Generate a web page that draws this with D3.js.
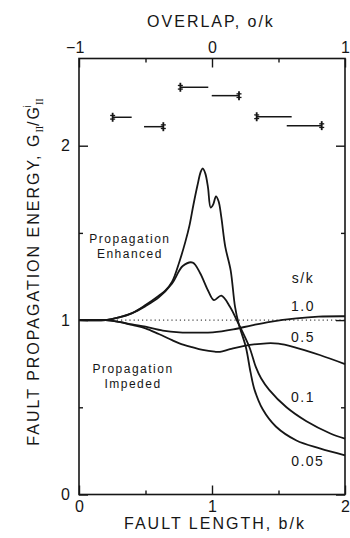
<!DOCTYPE html>
<html>
<head>
<meta charset="utf-8">
<script src="https://cdn.jsdelivr.net/npm/d3@7"></script>
<style>
  body { margin: 0; background: #fff; }
  svg { display: block; }
</style>
</head>
<body>
<script>
// Size of the page
const w = 350;
const h = 538;
const pLeft = 79, pRight = 345, pTop = 58.5, pBottom = 494.5;
const ink = "#161616";

// Tick values
const xTicks = [0, 1, 2];
const xMinor = [0.5, 1.5];
const oTicks = [-1, 0, 1];
const oMinor = [-0.5, 0.5];
const yTicks = [0, 1, 2];
const yMinor = [0.5, 1.5];

// Curves, [b/k, G/Gi]
const sLabels = ["0.05", "0.1", "0.5", "1.0"];
const s005 = [[0, 1], [0.2, 1], [0.3, 1.015], [0.4, 1.04], [0.5, 1.086], [0.6, 1.14], [0.65, 1.17],
  [0.7, 1.22], [0.755, 1.335], [0.8, 1.45], [0.83, 1.54], [0.86, 1.66], [0.89, 1.77], [0.915, 1.85],
  [0.93, 1.87], [0.95, 1.84], [0.97, 1.76], [0.99, 1.645], [1.01, 1.665], [1.03, 1.71], [1.05, 1.68],
  [1.07, 1.59], [1.1, 1.42], [1.14, 1.287], [1.173, 1.077], [1.2, 0.98], [1.254, 0.847], [1.29, 0.70],
  [1.32, 0.60], [1.38, 0.49], [1.48, 0.39], [1.635, 0.31], [1.81, 0.265], [2, 0.225]];
const s01 = [[0, 1], [0.2, 1], [0.3, 1.015], [0.4, 1.04], [0.5, 1.08], [0.6, 1.13], [0.7, 1.21],
  [0.78, 1.31], [0.855, 1.33], [0.91, 1.27], [0.97, 1.17], [1.015, 1.115], [1.07, 1.14], [1.135, 1.077],
  [1.186, 1.0], [1.28, 0.847], [1.33, 0.73], [1.37, 0.665], [1.43, 0.60], [1.56, 0.50], [1.71, 0.42],
  [1.89, 0.35], [2, 0.32]];
const s05 = [[0, 1], [0.2, 1], [0.3, 0.99], [0.4, 0.972], [0.5, 0.953], [0.6, 0.92], [0.7, 0.885],
  [0.755, 0.867], [0.85, 0.845], [0.93, 0.829], [1.02, 0.819], [1.06, 0.818], [1.135, 0.833],
  [1.235, 0.851], [1.41, 0.867], [1.5, 0.865], [1.61, 0.847], [1.81, 0.80], [2, 0.748]];
const s10 = [[0, 1], [0.2, 1], [0.3, 0.99], [0.4, 0.975], [0.5, 0.962], [0.63, 0.94], [0.755, 0.93],
  [0.9, 0.928], [1.006, 0.93], [1.16, 0.947], [1.3, 0.97], [1.436, 0.99], [1.635, 1.01], [1.8, 1.02],
  [2, 1.022]];
const curves = [s005, s01, s05, s10];

// Fault segments: [start b/k, end b/k, G/Gi, end with the tip mark]
const segments = [
  [0.253, 0.396, 2.163, "start"], [0.489, 0.634, 2.109, "end"],
  [0.762, 0.972, 2.335, "start"], [0.998, 1.203, 2.287, "end"],
  [1.336, 1.599, 2.166, "start"], [1.562, 1.825, 2.115, "end"]
];

const svg = d3.select("body")
  .append("svg")
  .attr("width", w)
  .attr("height", h)
  .style("font-family", "'Liberation Sans', Arial, sans-serif")
  .style("fill", ink);

// Scales
const xScale = d3.scaleLinear().domain([0, 2]).range([pLeft, pRight]);
const oScale = d3.scaleLinear().domain([-1, 1]).range([pLeft, pRight]);
const yScale = d3.scaleLinear().domain([0, 2.5]).range([pBottom, pTop]);

// Axes, ticks pointing in
function axis(maker, scale, vals, size, labels, pos, padding) {
  const a = maker(scale).tickValues(vals).tickSize(-size).tickPadding(padding || 0);
  if (!labels) a.tickFormat("");
  else a.tickFormat(labels);
  const g = svg.append("g").attr("transform", pos).call(a);
  g.select(".domain").remove();
  g.selectAll("line").attr("stroke", ink).attr("stroke-width", 1.4);
  g.selectAll("text").attr("fill", ink).style("font-size", "16px")
    .style("font-family", "'Liberation Sans', Arial, sans-serif");
  return g;
}

axis(d3.axisBottom, xScale, xTicks, 9, d => d, `translate(0,${pBottom})`, 6);
axis(d3.axisBottom, xScale, xMinor, 4, null, `translate(0,${pBottom})`);
const topAx = axis(d3.axisTop, oScale, oTicks, 9, d => d < 0 ? "\u22121" : d, `translate(0,${pTop})`, 6);
topAx.selectAll("text").filter(d => d < 0).attr("text-anchor", "end").attr("dx", "0.3em");
axis(d3.axisTop, oScale, oMinor, 4, null, `translate(0,${pTop})`);
axis(d3.axisLeft, yScale, yTicks, 9, d => d, `translate(${pLeft},0)`, 9);
axis(d3.axisLeft, yScale, yMinor, 4, null, `translate(${pLeft},0)`);
axis(d3.axisRight, yScale, yTicks, 9, null, `translate(${pRight},0)`);
axis(d3.axisRight, yScale, yMinor, 4, null, `translate(${pRight},0)`);

// Frame
svg.append("rect")
  .attr("x", pLeft).attr("y", pTop)
  .attr("width", pRight - pLeft).attr("height", pBottom - pTop)
  .attr("fill", "none").attr("stroke", ink).attr("stroke-width", 1.6);

// Reference line at 1
svg.append("line")
  .attr("x1", xScale(0)).attr("x2", xScale(2))
  .attr("y1", yScale(1)).attr("y2", yScale(1))
  .attr("stroke", ink).attr("stroke-width", 1)
  .attr("stroke-dasharray", "1.2,3");

// Curves
const line = d3.line()
  .x(d => xScale(d[0]))
  .y(d => yScale(d[1]))
  .curve(d3.curveCatmullRom.alpha(0.5));

svg.selectAll(".curve")
  .data(curves)
  .enter()
  .append("path")
  .attr("class", "curve")
  .attr("d", line)
  .attr("fill", "none")
  .attr("stroke", ink)
  .attr("stroke-width", 1.8);

// Fault segments with tip marks
segments.forEach(s => {
  const y = yScale(s[2]);
  svg.append("line")
    .attr("x1", xScale(s[0])).attr("x2", xScale(s[1]))
    .attr("y1", y).attr("y2", y)
    .attr("stroke", ink).attr("stroke-width", 1.5);
  const mx = s[3] === "start" ? xScale(s[0]) : xScale(s[1]);
  svg.append("line")
    .attr("x1", mx).attr("x2", mx).attr("y1", y - 4.5).attr("y2", y + 4.5)
    .attr("stroke", ink).attr("stroke-width", 1.8);
  [-1.8, 1.8].forEach(dy => {
    svg.append("line")
      .attr("x1", mx - 2.5).attr("x2", mx + 2.5).attr("y1", y + dy).attr("y2", y + dy)
      .attr("stroke", ink).attr("stroke-width", 1.3);
  });
});

// Annotations
function note(txt, bx, gy, size, anchor) {
  svg.append("text")
    .attr("x", xScale(bx)).attr("y", yScale(gy))
    .attr("text-anchor", anchor || "middle")
    .style("font-size", size + "px")
    .style("letter-spacing", "1.5px")
    .text(txt);
}
note("Propagation", 0.383, 1.442, 12);
note("Enhanced", 0.383, 1.356, 12);
note("Propagation", 0.406, 0.699, 12);
note("Impeded", 0.406, 0.61, 12);
note("s/k", 1.684, 1.212, 14);
note(sLabels[3], 1.684, 1.05, 14);
note(sLabels[2], 1.684, 0.874, 14);
note(sLabels[1], 1.684, 0.53, 14);
note(sLabels[0], 1.72, 0.163, 14);

// Axis titles
svg.append("text")
  .attr("x", 211).attr("y", 27)
  .attr("text-anchor", "middle")
  .style("font-size", "16px")
  .style("letter-spacing", "2px")
  .text("OVERLAP, o/k");

svg.append("text")
  .attr("x", 215).attr("y", 529)
  .attr("text-anchor", "middle")
  .style("font-size", "16px")
  .style("letter-spacing", "2px")
  .text("FAULT LENGTH, b/k");

const yTitle = svg.append("text")
  .attr("transform", "translate(39,272) rotate(-90)")
  .attr("text-anchor", "middle")
  .style("font-size", "16px")
  .style("letter-spacing", "2px");
yTitle.append("tspan").text("FAULT PROPAGATION ENERGY, G");
yTitle.append("tspan").attr("dy", 4).style("font-size", "10px")
  .style("font-family", "'Liberation Serif', serif").style("letter-spacing", "0px").text("II");
yTitle.append("tspan").attr("dy", -4).text("/G");
yTitle.append("tspan").attr("dy", 4).style("font-size", "10px")
  .style("font-family", "'Liberation Serif', serif").style("letter-spacing", "0px").text("II");
yTitle.append("tspan").attr("dy", -12).attr("dx", -9).style("font-size", "10px")
  .style("letter-spacing", "0px").text("i");
</script>
</body>
</html>
